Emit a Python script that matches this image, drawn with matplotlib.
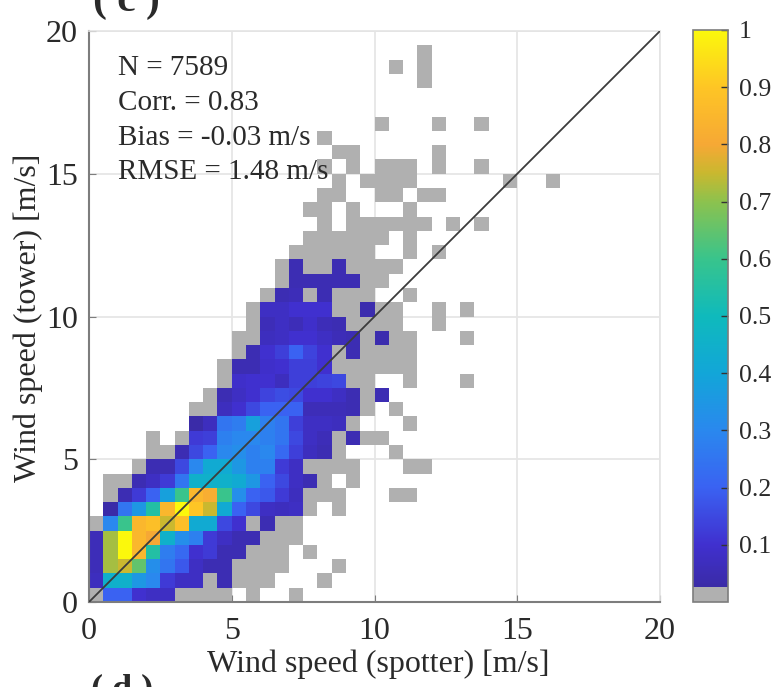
import numpy as np
import matplotlib
matplotlib.use("Agg")
import matplotlib.pyplot as plt
from matplotlib.colors import LinearSegmentedColormap

n = np.nan
g = 0.01  # gray bins (very few samples)

# normalized counts, rows go up from y=0 in 0.5 m/s bins
density_rows = [
    [g, .2, .2, .1, .08, .08, g, g, g, g, n, g, n, n, g],
    [.07, .45, .45, .35, .3, .12, .08, .08, g, .05, g, g, g, n, n, n, g],
    [.06, .72, .75, .65, .32, .25, .18, .08, .05, .05, g, g, g, g, n, n, n, g],
    [.06, .72, 1, .85, .55, .27, .22, .1, .12, .05, .05, g, g, g, n, g],
    [.06, .72, 1, .85, .8, .45, .32, .28, .12, .08, .05, .05, g, g, g],
    [g, .3, .6, .85, .88, .75, .88, .42, .42, .15, .1, g, .05, g, g],
    [n, .03, .25, .35, .55, .85, 1, .9, .75, .42, .2, .15, .08, .07, .08, g, n, g],
    [n, g, .05, .12, .2, .38, .6, .85, .82, .6, .32, .2, .18, .12, .07, g, g, g, n, n, n, g, g],
    [n, g, g, .05, .08, .12, .25, .45, .45, .45, .42, .35, .2, .15, .08, .05, g, n, g],
    [n, n, n, g, .05, .05, .15, .3, .42, .42, .35, .28, .28, .12, .08, g, g, g, g, n, n, n, g],
    [n, n, n, n, g, g, .05, .15, .2, .3, .32, .28, .3, .22, .13, .07, .05, g, n, n, n, g],
    [n, n, n, n, g, n, g, .12, .13, .28, .3, .3, .28, .25, .15, .08, .06, g, .05, g, g],
    [n, n, n, n, n, n, n, .03, .07, .25, .27, .38, .28, .25, .13, .08, .08, .07, g, n, n, n, g],
    [n, n, n, n, n, n, n, g, g, .07, .1, .15, .2, .2, .2, .06, .06, .06, .05, g, n, g],
    [n, n, n, n, n, n, n, n, g, .05, .08, .1, .14, .16, .15, .1, .1, .08, .05, g, .05],
    [n, n, n, n, n, n, n, n, n, g, .09, .1, .1, .07, .13, .13, .14, .15, g, g, n, n, g],
    [n, n, n, n, n, n, n, n, n, g, .05, .05, .09, .1, .13, .13, .1, g, g, g, g, g, g],
    [n, n, n, n, n, n, n, n, n, n, g, .05, .1, .13, .2, .14, .1, g, .05, g, g, g, g],
    [n, n, n, n, n, n, n, n, n, n, g, g, .07, .08, .1, .1, .08, .06, .05, g, .04, g, g],
    [n, n, n, n, n, n, n, n, n, n, n, g, .06, .08, .06, .09, .06, .05, g, g, g, g],
    [n, n, n, n, n, n, n, n, n, n, n, g, .08, .08, .1, .1, .1, g, g, .04, g, g],
    [n, n, n, n, n, n, n, n, n, n, n, n, g, .05, .06, g, .05, g, g, g, n, n, g],
    [n, n, n, n, n, n, n, n, n, n, n, n, n, g, .05, .05, .05, .05, .05, g, g],
    [n, n, n, n, n, n, n, n, n, n, n, n, n, g, .05, g, g, .05, g, g, g, g],
    [n, n, n, n, n, n, n, n, n, n, n, n, n, n, g, g, g, g, g, g, n, n, g],
    [n, n, n, n, n, n, n, n, n, n, n, n, n, n, n, g, g, g, g, g, g, n, g],
]

# isolated gray bins further out, lower left corner in m/s
far_x = [11.5, 13, 13, 13, 12, 12, 12, 12.5, 13.5, 11.5,
         8, 9, 9.5, 10, 10.5, 11, 7.5, 8, 9, 11,
         8, 8.5, 10, 10.5, 11.5, 12, 8.5, 9.5, 10, 10.5, 11, 14.5, 16,
         8, 9, 10, 10.5, 11, 12, 13.5, 8.5, 9, 12, 8,
         10, 12, 13.5, 11.5, 10.5, 11.5, 11.5]
far_y = [4.5, 7.5, 9, 10, 9.5, 10, 12, 13, 13, 13,
         13, 13, 13, 13, 13, 13, 13.5, 13.5, 13.5, 13.5,
         14, 14, 14, 14, 14, 14, 14.5, 14.5, 14.5, 14.5, 14.5, 14.5, 14.5,
         15, 15, 15, 15, 15, 15, 15, 15.5, 15.5, 15.5, 16,
         16.5, 16.5, 16.5, 18, 18.5, 18.5, 19]

stats = ["N = 7589", "Corr. = 0.83", "Bias = -0.03 m/s", "RMSE = 1.48 m/s"]
cbar_ticks = [.1, .2, .3, .4, .5, .6, .7, .8, .9, 1]
cbar_labels = ["0.1", "0.2", "0.3", "0.4", "0.5", "0.6", "0.7", "0.8", "0.9", "1"]
axis_ticks = [0, 5, 10, 15, 20]

plt.rcParams["font.family"] = ["Liberation Serif", "DejaVu Serif"]
txt = "#2a2a2a"
edge = "#7d7d7d"

# parula-like map, gray at the very bottom
cmap = LinearSegmentedColormap.from_list("parula_gray", [
    (0, "#b0b0b0"), (.024, "#b0b0b0"), (.025, "#3a2ba6"), (.1, "#4030cf"),
    (.2, "#3a62f2"), (.3, "#2a88ee"), (.4, "#12a6d8"), (.5, "#0fbabc"),
    (.6, "#38c48c"), (.7, "#8cc24e"), (.75, "#c9b82f"), (.8, "#f6a835"),
    (.9, "#fec525"), (1, "#fbf80c")], N=512)

z = np.full((40, 40), np.nan)
for r, row in enumerate(density_rows):
    z[r, :len(row)] = row
for x, y in zip(far_x, far_y):
    z[int(y * 2), int(x * 2)] = g

edges = np.arange(0, 20.5, 0.5)

fig = plt.figure(figsize=(7.76, 6.87), dpi=100)
ax = fig.add_axes([89 / 776, 85 / 687, 571 / 776, 571 / 687])
ax.set_axisbelow(True)
ax.grid(color="#e6e6e6", lw=1.3)
pc = ax.pcolormesh(edges, edges, np.ma.masked_invalid(z), cmap=cmap, vmin=0, vmax=1, zorder=2)
ax.plot([0, 20], [0, 20], color="#3c3c3c", lw=1.3, zorder=3)

ax.set_xlim(0, 20)
ax.set_ylim(0, 20)
ax.set_xticks(axis_ticks)
ax.set_yticks(axis_ticks)
ax.tick_params(axis="x", direction="in", length=5, color=edge, labelsize=23, labelcolor=txt, pad=11)
ax.tick_params(axis="y", direction="in", length=5, color=edge, labelsize=23, labelcolor=txt, pad=8)
for s in ["left", "bottom"]:
    ax.spines[s].set_color(edge)
    ax.spines[s].set_linewidth(1.5)
for s in ["top", "right"]:
    ax.spines[s].set_color("#e4e4e4")
    ax.spines[s].set_linewidth(1.2)

fig.text(378 / 776, 1 - 664 / 687, "Wind speed (spotter) [m/s]", fontsize=23, color=txt, ha="center", va="center")
fig.text(28 / 776, 1 - 318 / 687, "Wind speed (tower) [m/s]", fontsize=23, color=txt, ha="center", va="center", rotation=90)

for i, line in enumerate(stats):
    fig.text(118 / 776, 1 - (68 + i * 34.8) / 687, line, fontsize=21, color=txt, va="center", ha="left", zorder=5)

# panel letters cut off by the crop, same as in the source figure
fig.text(126 / 776, 1 - 11 / 687, "( c )", fontsize=30, fontweight="bold", color=txt, ha="center", va="baseline")
fig.text(122 / 776, 1 - 698 / 687, "( d )", fontsize=26, fontweight="bold", color=txt, ha="center", va="baseline")

cax = fig.add_axes([693 / 776, 85 / 687, 35 / 776, 572 / 687])
cb = fig.colorbar(pc, cax=cax)
cb.set_ticks(cbar_ticks)
cb.set_ticklabels(cbar_labels)
cb.ax.tick_params(direction="in", length=5, width=1, color="#333333", labelsize=18.5, labelcolor=txt, pad=8)
cb.outline.set_edgecolor(edge)
cb.outline.set_linewidth(1.2)

fig.savefig("out.png", dpi=100)
